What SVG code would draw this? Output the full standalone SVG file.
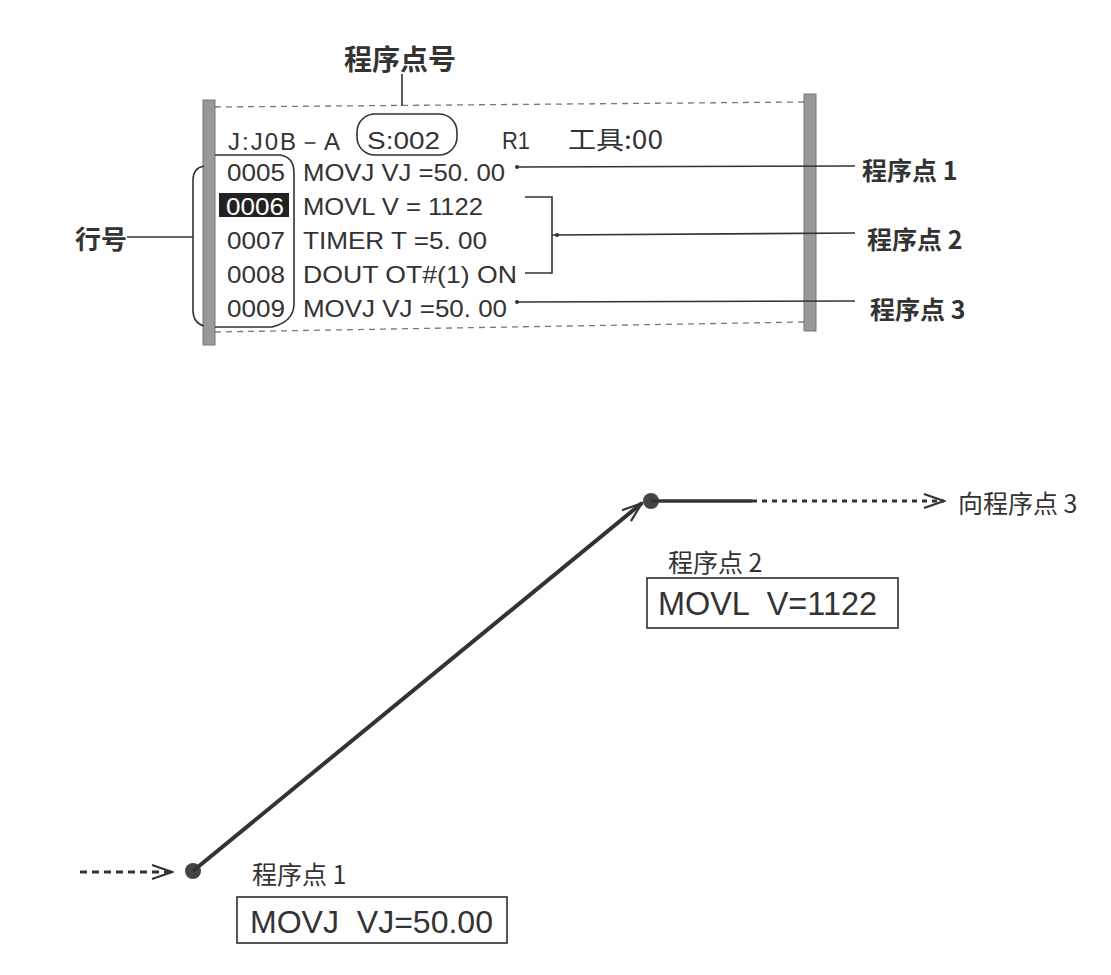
<svg xmlns="http://www.w3.org/2000/svg" width="1111" height="975" viewBox="0 0 1111 975">
<defs>
<style>
.cn{font-family:"Noto Sans CJK SC","Liberation Sans",sans-serif;fill:#333}
.scr{font-family:"Liberation Sans","DejaVu Sans",sans-serif;font-size:24px;fill:#333}
.ln{stroke:#333;stroke-width:1.6;fill:none}
.bar{fill:#999;stroke:#777;stroke-width:1}
.dash{stroke:#777;stroke-width:1.3;stroke-dasharray:6,5;fill:none}
.box{fill:#fff;stroke:#444;stroke-width:1.8}
.big{font-family:"Liberation Sans","DejaVu Sans",sans-serif;fill:#333;white-space:pre}
.dot{stroke:#333;stroke-width:3;stroke-dasharray:5,5;fill:none}
</style>
<marker id="open" viewBox="0 0 24 20" refX="22" refY="10" markerWidth="24" markerHeight="20" markerUnits="userSpaceOnUse" orient="auto">
<path d="M2,3 L22,10 L2,17" fill="none" stroke="#333" stroke-width="2.2"/>
</marker>
</defs>
<rect width="1111" height="975" fill="#fff"/>

<g id="screen">
<rect class="bar" x="203" y="100" width="12" height="245"/>
<rect class="bar" x="804" y="94" width="12" height="237"/>
<line class="dash" x1="215" y1="107" x2="804" y2="102"/>
<line class="dash" x1="215" y1="332" x2="804" y2="322"/>
<text class="scr" x="228" y="150" font-size="26" textLength="112" lengthAdjust="spacing">J:J0B－A</text>
<rect x="357" y="114" width="100" height="41" rx="18" fill="none" stroke="#333" stroke-width="1.6"/>
<text class="scr" x="367" y="149" font-size="26" textLength="73" lengthAdjust="spacingAndGlyphs">S:002</text>
<text class="scr" x="502" y="149" font-size="26" textLength="28" lengthAdjust="spacingAndGlyphs">R1</text>
<text class="cn" x="568" y="149" font-size="25" textLength="95" lengthAdjust="spacingAndGlyphs">工具:00</text>
<rect x="219" y="193" width="70" height="24" fill="#222"/>
<text class="scr" x="227" y="181" textLength="58" lengthAdjust="spacingAndGlyphs">0005</text>
<text class="scr" x="226" y="215" textLength="58" lengthAdjust="spacingAndGlyphs" style="fill:#fff">0006</text>
<text class="scr" x="227" y="249" textLength="58" lengthAdjust="spacingAndGlyphs">0007</text>
<text class="scr" x="227" y="283" textLength="58" lengthAdjust="spacingAndGlyphs">0008</text>
<text class="scr" x="227" y="317" textLength="58" lengthAdjust="spacingAndGlyphs">0009</text>
<text class="scr" x="303" y="181" textLength="202" lengthAdjust="spacingAndGlyphs">MOVJ VJ =50. 00</text>
<text class="scr" x="303" y="215" textLength="180" lengthAdjust="spacingAndGlyphs">MOVL V = 1122</text>
<text class="scr" x="303" y="249" textLength="184" lengthAdjust="spacingAndGlyphs">TIMER T =5. 00</text>
<text class="scr" x="303" y="283" textLength="214" lengthAdjust="spacingAndGlyphs">DOUT OT#(1) ON</text>
<text class="scr" x="303" y="317" textLength="204" lengthAdjust="spacingAndGlyphs">MOVJ VJ =50. 00</text>
<path class="ln" d="M215,155 L280,155 Q294,157 294,173 L294,305 Q293,322 272,327 L215,327"/>
<path class="ln" d="M204,166 Q193,168 193,180 L193,310 Q193,323 204,326"/>
</g>

<g id="label-s">
<text class="cn" x="400" y="70" font-size="28" font-weight="bold" text-anchor="middle">程序点号</text>
</g>
<g id="label-line">
<text class="cn" x="75" y="249" font-size="26" font-weight="bold">行号</text>
</g>
<g id="label-p1">
<text class="cn" x="862" y="180" font-size="25" font-weight="bold">程序点 1</text>
</g>
<g id="label-p2">
<text class="cn" x="867" y="249" font-size="25" font-weight="bold">程序点 2</text>
</g>
<g id="label-p3">
<text class="cn" x="870" y="319" font-size="25" font-weight="bold">程序点 3</text>
</g>

<g id="point2">
<circle cx="651" cy="501" r="8" fill="#444"/>
<text class="cn" x="668" y="572" font-size="25">程序点 2</text>
<rect class="box" x="647" y="578" width="251" height="50"/>
<text class="big" x="658" y="615" font-size="33" textLength="219" lengthAdjust="spacingAndGlyphs" xml:space="preserve">MOVL  V=1122</text>
</g>
<g id="point1">
<circle cx="193" cy="871" r="8" fill="#444"/>
<text class="cn" x="252" y="884" font-size="25">程序点 1</text>
<rect class="box" x="237" y="897" width="270" height="46"/>
<text class="big" x="250" y="933" font-size="31" textLength="243" lengthAdjust="spacingAndGlyphs" xml:space="preserve">MOVJ  VJ=50.00</text>
</g>
<g id="label-to3">
<text class="cn" x="958" y="513" font-size="25">向程序点 3</text>
</g>

<g id="connectors">
<line class="ln" x1="402" y1="74" x2="402" y2="106"/>
<line class="ln" x1="127" y1="237" x2="193" y2="237"/>
<circle cx="517" cy="167" r="2" fill="#333"/>
<line class="ln" x1="517" y1="167" x2="855" y2="166"/>
<path class="ln" d="M525,197 L552,197 L552,273 L525,273"/>
<circle cx="557" cy="235" r="2" fill="#333"/>
<line class="ln" x1="552" y1="235" x2="855" y2="233"/>
<circle cx="517" cy="302" r="2" fill="#333"/>
<line class="ln" x1="517" y1="302" x2="855" y2="301"/>
<line x1="193" y1="871" x2="642" y2="503" stroke="#333" stroke-width="4" marker-end="url(#open)"/>
<line x1="651" y1="501" x2="752" y2="501" stroke="#333" stroke-width="3.5"/>
<line class="dot" x1="752" y1="501" x2="944" y2="501" marker-end="url(#open)"/>
<line class="dot" x1="80" y1="872" x2="172" y2="872" style="stroke-dasharray:7,5" marker-end="url(#open)"/>
</g>
</svg>
